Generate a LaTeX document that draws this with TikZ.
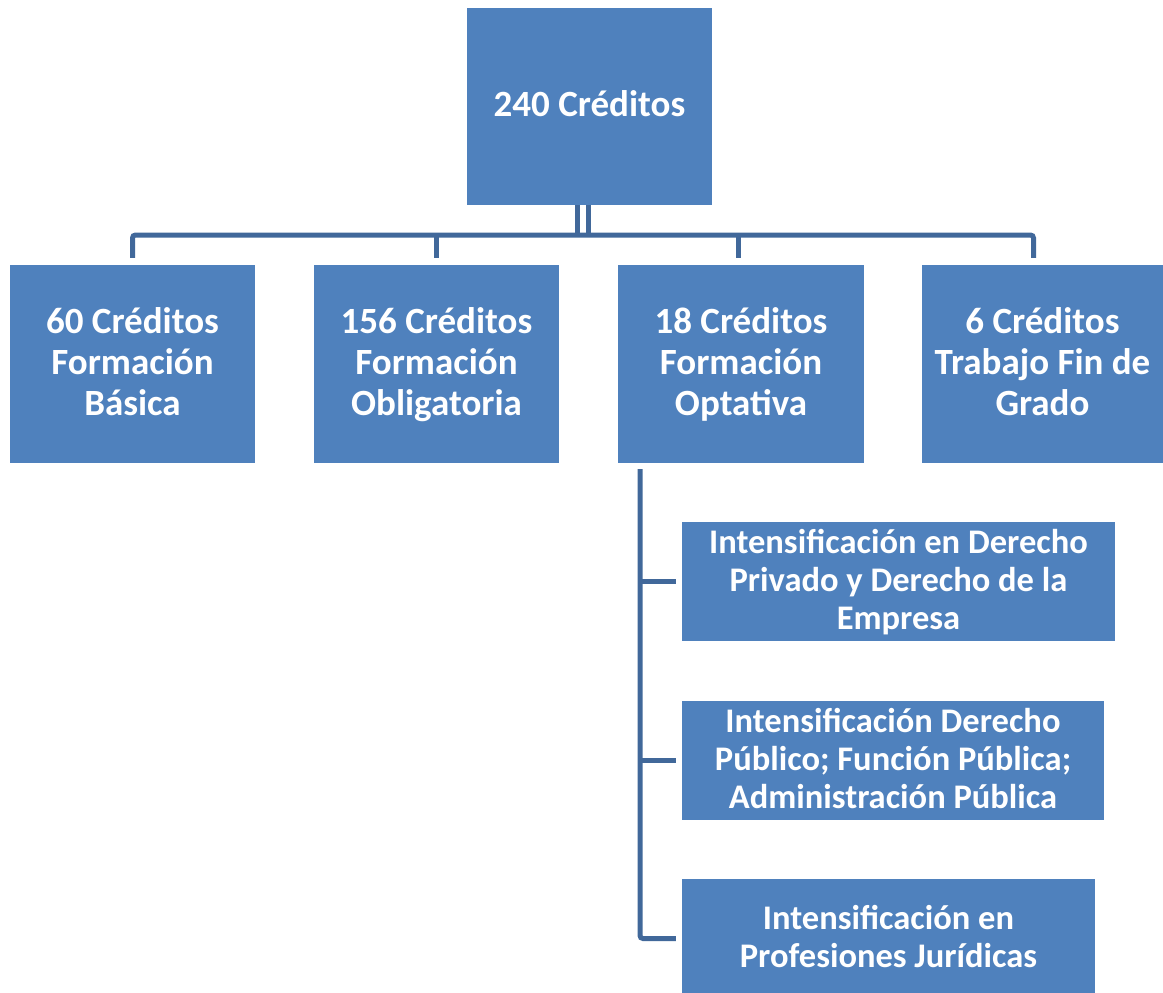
\documentclass[tikz,border=0pt]{standalone}
\usepackage{fontspec}
\setmainfont{Carlito}
\usetikzlibrary{positioning}

\definecolor{boxblue}{HTML}{4F81BD}
\definecolor{linkblue}{HTML}{41689A}

% centred lines, first row a bit taller
\newcommand{\boxtext}[2][32.7pt]{\begin{tabular}{@{}c@{}}\rule{0pt}{#1}#2\end{tabular}}

\tikzstyle{credit} = [fill=boxblue, text=white, inner sep=0pt,
  font=\fontsize{37}{41}\selectfont\bfseries]
\tikzstyle{branch} = [fill=boxblue, text=white, inner sep=0pt,
  minimum height=119pt, font=\fontsize{34.5}{38}\selectfont\bfseries]
\tikzstyle{link} = [draw=linkblue, line width=5pt, rounded corners=3pt]

\begin{document}
\begin{tikzpicture}[x=1pt, y=-1pt]
\useasboundingbox (0,0) rectangle (1163,993);

\node[credit, minimum width=245pt, minimum height=197pt] (top) at (589.5,106.5) {\boxtext{240 Créditos}};

\node[credit, minimum width=245pt, minimum height=198pt] (basica) at (132.5,364) {\boxtext{60 Créditos\\Formación\\Básica}};
\node[credit, minimum width=245pt, minimum height=198pt] (oblig) at (436.5,364) {\boxtext{156 Créditos\\Formación\\Obligatoria}};
\node[credit, minimum width=246pt, minimum height=198pt] (optat) at (741,364) {\boxtext{18 Créditos\\Formación\\Optativa}};
\node[credit, minimum width=241pt, minimum height=198pt] (tfg) at (1042.5,364) {\boxtext{6 Créditos\\Trabajo Fin de\\Grado}};

\node[branch, minimum width=433pt] (privado) at (898.5,581.5) {\boxtext[31.6pt]{Intensificación en Derecho\\Privado y Derecho de la\\Empresa}};
\node[branch, minimum width=422pt] (publico) at (893,760.5) {\boxtext[31.6pt]{Intensificación Derecho\\Público; Función Pública;\\Administración Pública}};
\node[branch, minimum width=413pt] (juridicas) at (888.5,938.5) {\boxtext[31.6pt]{Intensificación en\\Profesiones Jurídicas}};

% bus under the top box
\coordinate (bus) at (589,235);
\draw[link] ([xshift=-12pt]top.south) -- ([xshift=-12pt]top.south |- bus);
\draw[link] ([xshift=-1.5pt]top.south) -- ([xshift=-1.5pt]top.south |- bus);
\draw[link] ([yshift=7pt]basica.north) |- (bus) -| ([xshift=-9pt,yshift=7pt]tfg.north);
\draw[link] ([yshift=7pt]oblig.north) -- (oblig.north |- bus);
\draw[link] ([xshift=-3pt,yshift=7pt]optat.north) -- ([xshift=-3pt]optat.north |- bus);

% optional branches
\coordinate (spine) at ([xshift=-101pt,yshift=-6pt]optat.south);
\draw[link] (spine) |- ([xshift=-6pt]juridicas.west);
\draw[link] (spine |- privado.west) -- ([xshift=-6pt]privado.west);
\draw[link] (spine |- publico.west) -- ([xshift=-6pt]publico.west);
\end{tikzpicture}
\end{document}
